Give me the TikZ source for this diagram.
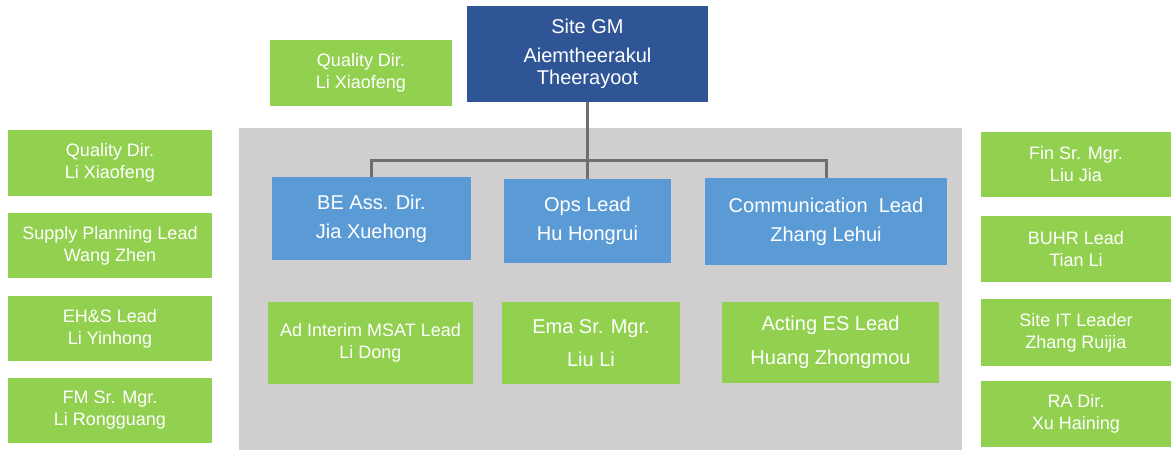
\documentclass[tikz,border=0pt]{standalone}
\usepackage{fontspec}
\setmainfont{Liberation Sans}
\usepackage{xcolor}
\definecolor{gmblue}{HTML}{2F5597}
\definecolor{leadblue}{HTML}{5B9BD5}
\definecolor{staffgreen}{HTML}{92D050}
\definecolor{panelgray}{HTML}{D0CECE}
\definecolor{linkgray}{HTML}{6F6F6F}

\begin{document}
\begin{tikzpicture}[x=1pt, y=-1pt,
    box/.style={rectangle, inner sep=0pt, text=white, align=center},
    staff/.style={box, fill=staffgreen, font=\fontsize{18}{22}\selectfont},
    lead/.style={box, fill=leadblue, font=\fontsize{20}{29}\selectfont},
    link/.style={draw=linkgray, line width=3pt}]
    \useasboundingbox (0,0) rectangle (1171,450);
    % grey panel behind the direct reports
    \fill[panelgray] (239,128) rectangle (962,450);

    \node[box, fill=gmblue, minimum width=241pt, minimum height=96pt, font=\fontsize{20}{22}\selectfont](gm) at (587.5,54){Site GM\\[7pt]Aiemtheerakul\\Theerayoot};
    \node[staff, minimum width=182pt, minimum height=66pt](qtop) at (361,73){Quality Dir.\\Li Xiaofeng};

    \node[lead, minimum width=199pt, minimum height=83pt](be) at (371.5,218.5){BE Ass. Dir.\\Jia Xuehong};
    \node[lead, minimum width=167pt, minimum height=84pt](ops) at (587.5,221){Ops Lead\\Hu Hongrui};
    \node[lead, minimum width=242pt, minimum height=87pt](comm) at (826,221.5){Communication~~Lead\\Zhang Lehui};

    \node[staff, minimum width=205pt, minimum height=82pt](msat) at (370.5,343){Ad Interim MSAT Lead\\Li Dong};
    \node[staff, minimum width=178pt, minimum height=82pt, font=\fontsize{20}{33}\selectfont](ema) at (591,343){Ema Sr. Mgr.\\Liu Li};
    \node[staff, minimum width=217pt, minimum height=81pt, font=\fontsize{20}{34}\selectfont](es) at (830.5,342.5){Acting ES Lead\\Huang Zhongmou};

    % left column
    \node[staff, minimum width=204pt, minimum height=66pt](qleft) at (110,163){Quality Dir.\\Li Xiaofeng};
    \node[staff, minimum width=204pt, minimum height=65pt](supply) at (110,245.5){Supply Planning Lead\\Wang Zhen};
    \node[staff, minimum width=204pt, minimum height=65pt](ehs) at (110,328.5){EH\&S Lead\\Li Yinhong};
    \node[staff, minimum width=204pt, minimum height=65pt](fm) at (110,410.5){FM Sr. Mgr.\\Li Rongguang};

    % right column
    \node[staff, minimum width=190pt, minimum height=65pt](fin) at (1076,164.5){Fin Sr. Mgr.\\Liu Jia};
    \node[staff, minimum width=190pt, minimum height=66pt](buhr) at (1076,249){BUHR Lead\\Tian Li};
    \node[staff, minimum width=190pt, minimum height=67pt](it) at (1076,332.5){Site IT Leader\\Zhang Ruijia};
    \node[staff, minimum width=190pt, minimum height=66pt](ra) at (1076,414){RA Dir.\\Xu Haining};

    \coordinate (bus) at (587.5,160);
    \draw[link] (gm.south) -- (bus);
    \draw[link] (bus) -| (be.north);
    \draw[link] (bus) -- (ops.north);
    \draw[link] (bus) -| (comm.north);
\end{tikzpicture}
\end{document}
